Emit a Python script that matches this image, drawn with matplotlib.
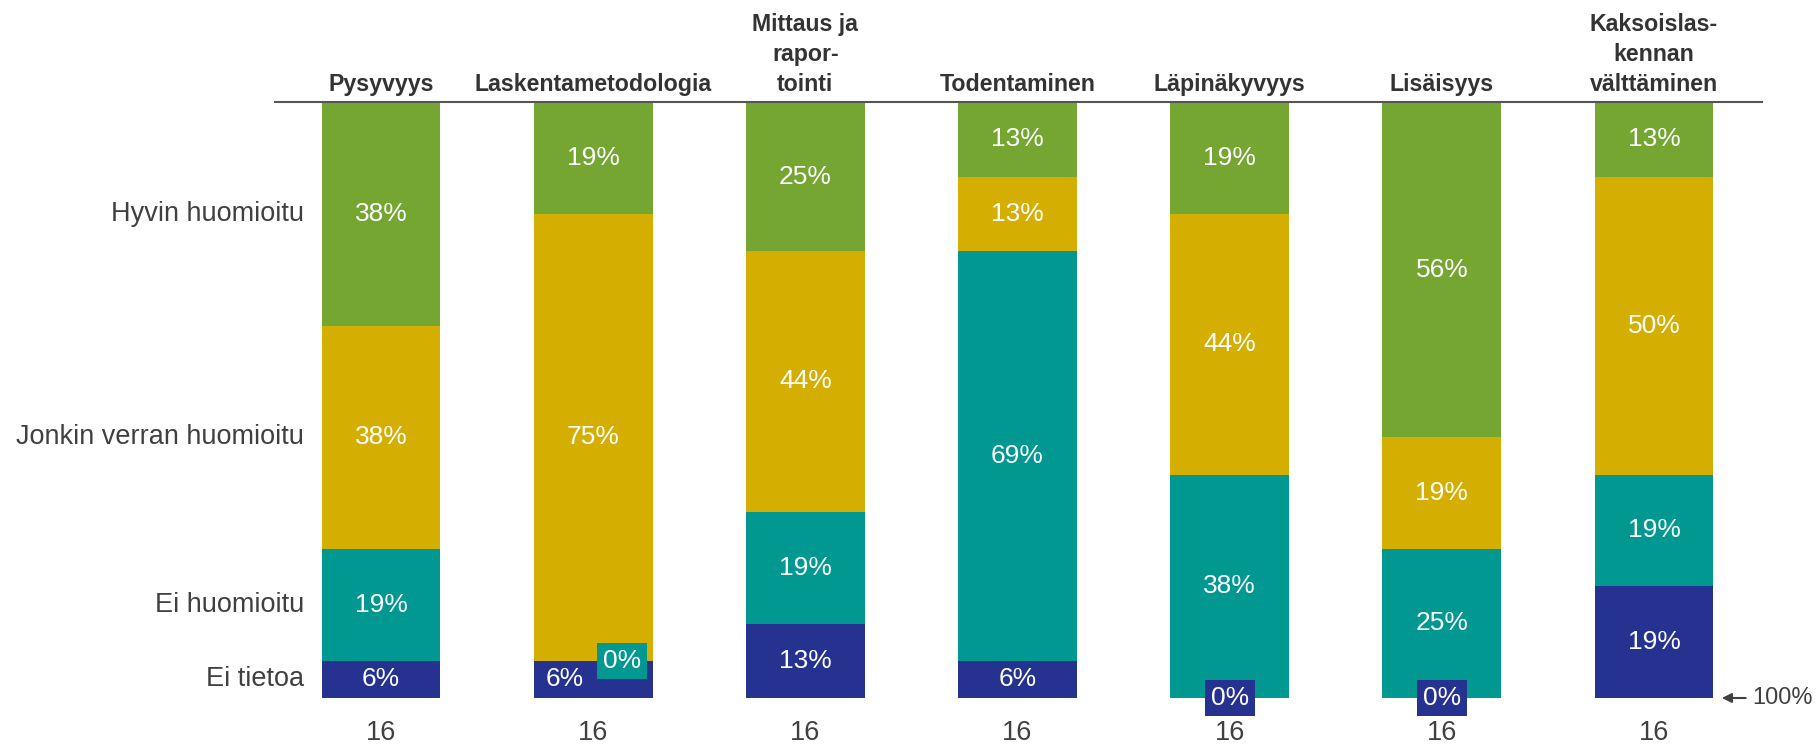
import matplotlib.pyplot as plt

plt.rcParams['font.family'] = ['Liberation Sans', 'DejaVu Sans']

categories = ["Pysyvyys", "Laskentametodologia", "Mittaus ja\nrapor-\ntointi",
              "Todentaminen", "Läpinäkyvyys", "Lisäisyys",
              "Kaksoislas-\nkennan\nvälttäminen"]
levels = ["Ei tietoa", "Ei huomioitu", "Jonkin verran huomioitu", "Hyvin huomioitu"]

# percentages per level, bottom to top (n = 16 in every column)
ei_tietoa = [6.25, 6.25, 12.5, 6.25, 0, 0, 18.75]
ei_huomioitu = [18.75, 0, 18.75, 68.75, 37.5, 25, 18.75]
jonkin_verran = [37.5, 75, 43.75, 12.5, 43.75, 18.75, 50]
hyvin = [37.5, 18.75, 25, 12.5, 18.75, 56.25, 12.5]
counts = [16, 16, 16, 16, 16, 16, 16]

series = [ei_tietoa, ei_huomioitu, jonkin_verran, hyvin]
colors = ["#263290", "#009890", "#D4AF02", "#75A632"]

fig = plt.figure(figsize=(18.2, 7.44), dpi=100)
ax = fig.add_axes([275 / 1820, 46 / 744, (1762 - 275) / 1820, 596 / 744])

x = list(range(len(categories)))
width = 0.56
bottoms = [0.0] * len(categories)
for idx, (vals, col) in enumerate(zip(series, colors)):
    ax.bar(x, vals, width, bottom=bottoms, color=col, edgecolor='none')
    for i, v in enumerate(vals):
        lab = f"{int(v + 0.5)}%"
        if v == 0:
            # zero segment: boxed label on the boundary
            dx = 0.135 if bottoms[i] > 0 else 0
            ax.text(i + dx, bottoms[i], lab, ha='center', va='center', color='white',
                    fontsize=19, bbox=dict(boxstyle='square,pad=0.22', fc=col, ec='none'),
                    zorder=5)
        else:
            dx = 0
            # make room for a boxed zero label sitting on top of this one
            if idx + 2 < len(series) and series[idx + 1][i] == 0:
                dx = -0.135
            ax.text(i + dx, bottoms[i] + v / 2, lab, ha='center', va='center',
                    color='white', fontsize=19)
    bottoms = [b + v for b, v in zip(bottoms, vals)]

# row labels next to the first column
b = 0
for name, vals in zip(levels, series):
    ax.text(-0.363, b + vals[0] / 2, name, ha='right', va='center',
            fontsize=19.5, color='#404040')
    b += vals[0]

for i, (cat, n) in enumerate(zip(categories, counts)):
    ax.text(i, 101.0, cat, ha='center', va='bottom', fontsize=16.7, fontweight='bold',
            color='#333333', linespacing=1.4, multialignment='center')
    ax.text(i, -5.9, str(n), ha='center', va='center', fontsize=19.5, color='#404040')

ax.annotate("100%", xy=(6.32, 0), xytext=(6.465, 0), ha='left', va='center',
            fontsize=17, color='#404040',
            arrowprops=dict(arrowstyle='-|>', color='#404040', lw=1.5,
                            shrinkA=3, shrinkB=0, mutation_scale=14))

ax.set_xlim(-0.4996, 6.509)
ax.set_ylim(0, 100)
for s in ['left', 'right', 'bottom']:
    ax.spines[s].set_visible(False)
ax.spines['top'].set_color('#555555')
ax.spines['top'].set_linewidth(1.5)
ax.set_xticks([])
ax.set_yticks([])

fig.savefig("out.png", dpi=100)
